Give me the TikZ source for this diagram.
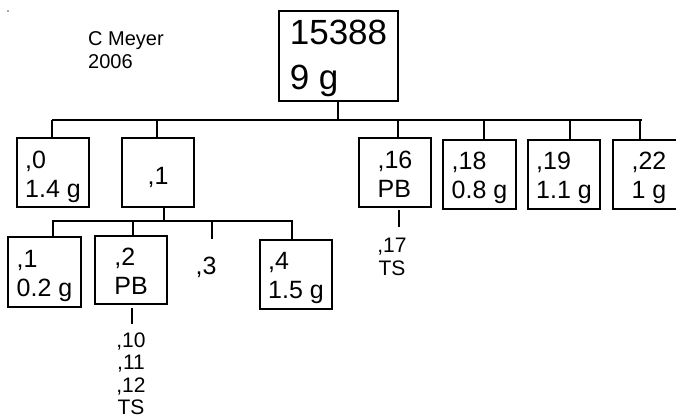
\documentclass[tikz,border=0pt]{standalone}
\usepackage{fontspec}
\setmainfont{Liberation Sans}
\newcommand\lowtxt[2]{\raisebox{-#1}[\height][\depth]{\begin{tabular}{@{}l@{}}#2\end{tabular}}}
\begin{document}
\begin{tikzpicture}[x=1pt,y=-1pt,
  box/.style={draw,line width=1.3pt,inner sep=0pt,align=left,
    font=\fontsize{25}{29}\selectfont},
  bigbox/.style={draw,line width=1.3pt,inner sep=0pt,align=left,
    font=\fontsize{35}{45}\selectfont},
  lbl/.style={inner sep=0pt,align=center,font=\fontsize{21}{22.5}\selectfont},
  conn/.style={line width=1.3pt}]
\useasboundingbox (0,0) rectangle (676,419);
\fill[gray!70] (7,10) rectangle (9,12);
\node[inner sep=0pt,align=left,anchor=west,font=\fontsize{20}{22.5}\selectfont] (author) at (88,50) {C Meyer\\2006};
% top
\node[bigbox,minimum width=119,minimum height=90] (top) at (338.5,56) {\lowtxt{2pt}{15388\\9 g}};
% level 1
\node[box,minimum width=72,minimum height=69] (n0) at (53,172.5) {\lowtxt{5pt}{,0\\1.4 g}};
\node[box,minimum width=72,minimum height=69] (n1) at (158,172.5) {\lowtxt{6pt}{,1}};
\node[box,minimum width=72,minimum height=69] (n16) at (395,172.5) {\lowtxt{5pt}{,16\\PB}};
\node[box,minimum width=73,minimum height=69] (n18) at (479.5,174.5) {\lowtxt{4pt}{,18\\0.8 g}};
\node[box,minimum width=72,minimum height=69] (n19) at (564,174.5) {\lowtxt{4pt}{,19\\1.1 g}};
\node[box,minimum width=72,minimum height=69] (n22) at (649,174.5) {\lowtxt{4pt}{,22\\1 g}};
% level 2
\node[box,minimum width=73,minimum height=70] (m1) at (44.5,272) {\lowtxt{4pt}{,1\\0.2 g}};
\node[box,minimum width=72,minimum height=68] (m2) at (131,270) {\lowtxt{4pt}{,2\\PB}};
\node[inner sep=0pt,font=\fontsize{25}{29}\selectfont] (m3) at (206,267) {,3};
\node[box,minimum width=72,minimum height=69] (m4) at (296,274.5) {\lowtxt{4pt}{,4\\1.5 g}};
% labels
\node[lbl] (t17) at (392,257) {,17\\TS};
\node[lbl] (t10) at (131,374) {,10\\,11\\,12\\TS};
% connectors level 1
\coordinate (bus) at (338,120);
\coordinate (busL) at (52,120);
\coordinate (busR) at (642,120);
\draw[conn] (top.south -| bus) -- (bus);
\draw[conn] (busL) -- (busR);
\foreach \x/\n in {52/n0,157/n1,398/n16,484/n18,570/n19,640/n22}{
  \coordinate (d) at (\x,120);
  \draw[conn] (d) -- (d |- \n.north);
}
% connectors level 2
\coordinate (bus2) at (164,221);
\coordinate (bus2L) at (52,221);
\coordinate (bus2R) at (293,221);
\draw[conn] (n1.south -| bus2) -- (bus2);
\draw[conn] (bus2L) -- (bus2R);
\foreach \x/\n in {53/m1,133/m2,292/m4}{
  \coordinate (e) at (\x,221);
  \draw[conn] (e) -- (e |- \n.north);
}
\coordinate (e3) at (212,221);
\coordinate (e3b) at (212,239);
\draw[conn] (e3) -- (e3b);
% below boxes
\coordinate (c16) at (399,227);
\draw[conn,shorten <=2pt] (n16.south -| c16) -- (c16);
\coordinate (c2) at (132,324);
\draw[conn,shorten <=3pt] (m2.south -| c2) -- (c2);
\end{tikzpicture}
\end{document}
